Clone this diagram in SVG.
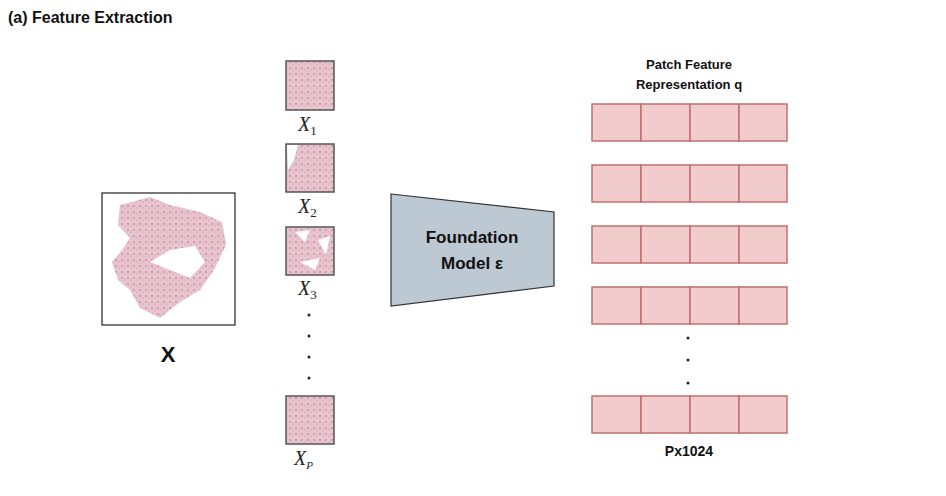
<svg xmlns="http://www.w3.org/2000/svg" width="946" height="496" viewBox="0 0 946 496">
<style>
.t{font-family:"Liberation Sans",Arial,sans-serif;font-weight:bold;fill:#111}
.m{font-family:"Liberation Serif","Times New Roman",serif;font-style:italic;fill:#222}
.patch{stroke:#555;stroke-width:1.5}
.cell{fill:#f2cccc;stroke:#c0706e;stroke-width:1.5}
</style>
<defs>
<pattern id="px" width="6" height="6" patternUnits="userSpaceOnUse"><rect width="6" height="6" fill="#e8c4cf"/><circle cx="2" cy="2" r="1" fill="#c98ea4"/><circle cx="5" cy="4" r="0.8" fill="#d7a6b6"/></pattern>
<g id="row"><rect class="cell" x="0" y="0" width="49" height="37"/><rect class="cell" x="49" y="0" width="49" height="37"/><rect class="cell" x="98" y="0" width="49" height="37"/><rect class="cell" x="147" y="0" width="48" height="37"/></g>
</defs>
<rect width="946" height="496" fill="#fff"/>
<text class="t" x="8" y="23" font-size="16">(a) Feature Extraction</text>
<g id="wsi">
<rect x="102" y="193" width="133" height="132" fill="#fff" stroke="#222" stroke-width="1.2"/>
<path fill="url(#px)" d="M120 205 L150 197 L170 205 L200 212 L222 222 L226 245 L214 270 L200 290 L180 302 L160 318 L140 308 L130 290 L118 280 L112 262 L122 250 L130 238 L118 225 Z M150 262 L170 250 L195 246 L205 262 L190 278 L170 270 Z" fill-rule="evenodd"/>
<text class="t" x="168" y="362" font-size="22" text-anchor="middle">X</text>
</g>
<g id="patches">
<rect class="patch" x="286" y="61" width="48" height="49" fill="url(#px)"/>
<text class="m" x="298" y="131" font-size="20">X<tspan font-size="13" dy="4" font-style="normal">1</tspan></text>
<rect class="patch" x="286" y="144" width="48" height="48" fill="url(#px)"/>
<path d="M287 145 L298 145 L294 160 L288 170 Z" fill="#fff"/>
<text class="m" x="298" y="213" font-size="20">X<tspan font-size="13" dy="4" font-style="normal">2</tspan></text>
<rect class="patch" x="286" y="227" width="48" height="48" fill="url(#px)"/>
<path d="M295 232 L310 230 L305 242 Z M318 240 L330 236 L326 255 Z M300 262 L320 258 L315 270 Z" fill="#fff"/>
<text class="m" x="298" y="295" font-size="20">X<tspan font-size="13" dy="4" font-style="normal">3</tspan></text>
<g fill="#222"><circle cx="309" cy="315" r="1.5"/><circle cx="309" cy="336" r="1.5"/><circle cx="309" cy="357" r="1.5"/><circle cx="309" cy="378" r="1.5"/></g>
<rect class="patch" x="286" y="396" width="48" height="48" fill="url(#px)"/>
<text class="m" x="294" y="465" font-size="20">X<tspan font-size="11" dy="4">P</tspan></text>
</g>
<g id="model">
<polygon points="391,194 554,212 554,286 391,306" fill="#bcc8d2" stroke="#333" stroke-width="1.2"/>
<text class="t" x="472" y="243" font-size="17" text-anchor="middle">Foundation</text>
<text class="t" x="472" y="269" font-size="17" text-anchor="middle">Model ε</text>
</g>
<g id="features">
<text class="t" x="689" y="69" font-size="13" text-anchor="middle">Patch Feature</text>
<text class="t" x="689" y="89" font-size="13" text-anchor="middle">Representation q</text>
<use href="#row" x="592" y="104"/>
<use href="#row" x="592" y="165"/>
<use href="#row" x="592" y="226"/>
<use href="#row" x="592" y="287"/>
<g fill="#222"><circle cx="688" cy="338" r="1.5"/><circle cx="688" cy="360" r="1.5"/><circle cx="688" cy="383" r="1.5"/></g>
<use href="#row" x="592" y="396"/>
<text class="t" x="689" y="456" font-size="14" text-anchor="middle">Px1024</text>
</g>
<g id="connectors"></g>
</svg>
